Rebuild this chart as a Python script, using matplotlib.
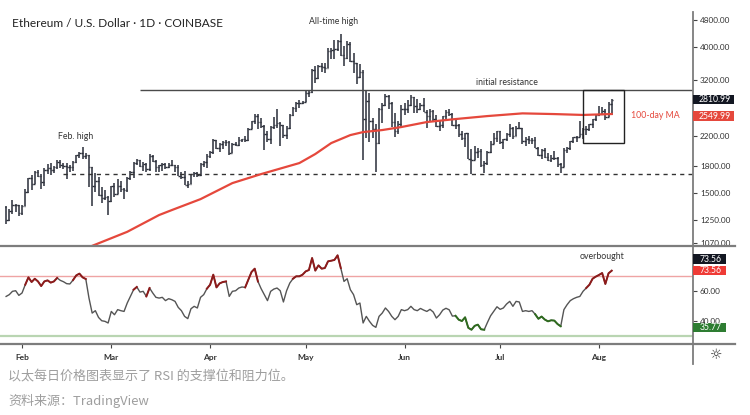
import pandas as pd
import matplotlib
matplotlib.use("Agg")
import matplotlib.pyplot as plt
import matplotlib.dates as mdates
from matplotlib.lines import Line2D
from matplotlib.patches import Rectangle
from matplotlib.ticker import FixedLocator, NullLocator, FuncFormatter

plt.rcParams['font.family'] = ['Lato', 'DejaVu Sans']

# ---- data: ETH/USD daily bars, 2021-01-27 .. 2021-08-05 ----
start_date = "2021-01-27"
first_open = 1362

close = [1250, 1331, 1379, 1378, 1313,
         1373, 1510, 1660, 1592, 1722, 1680, 1613, 1749, 1769, 1744, 1784, 1843, 1814, 1802,
         1780, 1782, 1845, 1938, 1960, 1920, 1935, 1780, 1570, 1625, 1477, 1446, 1460, 1417,
         1566, 1489, 1575, 1540, 1533, 1654, 1724, 1834, 1868, 1795, 1824, 1767, 1924, 1854, 1790, 1805,
         1825, 1780, 1810, 1806, 1783, 1681, 1670, 1585, 1592, 1700, 1715, 1690, 1818, 1844, 1920,
         1970, 2135, 2025, 2080, 2110, 2115, 1965, 2085, 2075, 2135, 2150, 2140, 2300, 2430, 2515,
         2420, 2355, 2235, 2160, 2330, 2365, 2405, 2365, 2210, 2315, 2535, 2660, 2745, 2755, 2770,
         2945, 2950, 3430, 3250, 3520, 3490, 3480, 3900, 3925, 3950, 4170, 3800, 3720, 4080, 3640, 3590,
         3280, 3380, 2460, 2780, 2430, 2300, 2100, 2645, 2710, 2885, 2740, 2420, 2280, 2390, 2630,
         2630, 2705, 2855, 2690, 2630, 2715, 2590, 2515, 2610, 2470, 2355, 2370, 2510, 2585, 2550,
         2365, 2370, 2230, 2165, 2245, 1890, 1875, 1970, 1990, 1810, 1830, 1980, 2085, 2165, 2275,
         2110, 2150, 2225, 2325, 2200, 2325, 2315, 2120, 2150, 2140, 2140, 2035, 1940, 1995, 1915, 1875,
         1895, 1895, 1820, 1785, 1995, 2030, 2125, 2185, 2190, 2230, 2300, 2300, 2380, 2460, 2535,
         2555, 2610, 2505, 2725, 2811]

high = [1373, 1350, 1434, 1395, 1384,
        1380, 1535, 1660, 1695, 1735, 1750, 1700, 1775, 1818, 1830, 1800, 1870, 1874, 1830,
        1830, 1812, 1855, 1940, 1978, 2041, 1957, 1940, 1780, 1710, 1670, 1560, 1528, 1468,
        1570, 1600, 1650, 1620, 1550, 1665, 1735, 1840, 1880, 1876, 1840, 1836, 1946, 1934, 1876, 1812,
        1835, 1836, 1835, 1870, 1810, 1812, 1725, 1740, 1620, 1705, 1730, 1725, 1835, 1860, 1950,
        1990, 2150, 2145, 2100, 2130, 2140, 2130, 2095, 2110, 2185, 2160, 2200, 2320, 2440, 2545,
        2550, 2490, 2365, 2280, 2345, 2500, 2645, 2410, 2370, 2350, 2550, 2680, 2760, 2800, 2790,
        2980, 2990, 3460, 3530, 3540, 3600, 3600, 3970, 3980, 4200, 4200, 4380, 4030, 4170, 4140, 3850,
        3600, 3560, 3440, 2990, 2940, 2490, 2380, 2660, 2750, 2910, 2890, 2760, 2560, 2440, 2710,
        2740, 2800, 2890, 2860, 2815, 2740, 2840, 2620, 2640, 2620, 2530, 2450, 2520, 2620, 2630,
        2560, 2480, 2380, 2280, 2250, 2250, 2020, 2050, 2030, 2010, 1860, 1990, 2130, 2240, 2280,
        2280, 2160, 2240, 2390, 2330, 2350, 2410, 2320, 2190, 2200, 2170, 2180, 2045, 2010, 2030, 1960,
        1930, 1990, 1910, 1835, 2025, 2045, 2130, 2190, 2195, 2440, 2320, 2345, 2390, 2470, 2550,
        2700, 2665, 2630, 2760, 2830]

low = [1218, 1237, 1301, 1320, 1283,
       1290, 1370, 1500, 1530, 1590, 1672, 1541, 1568, 1705, 1686, 1720, 1760, 1775, 1760,
       1652, 1725, 1740, 1832, 1900, 1880, 1880, 1560, 1371, 1510, 1470, 1400, 1430, 1293,
       1410, 1461, 1487, 1510, 1440, 1507, 1640, 1660, 1815, 1781, 1735, 1728, 1738, 1840, 1730, 1730,
       1740, 1760, 1770, 1800, 1730, 1680, 1645, 1580, 1545, 1590, 1665, 1670, 1680, 1790, 1770,
       1900, 1950, 2015, 1980, 2020, 2050, 1935, 1960, 2050, 2060, 2110, 2110, 2130, 2300, 2380,
       2300, 2320, 2000, 2110, 2080, 2310, 2320, 2050, 2170, 2160, 2300, 2520, 2580, 2660, 2720,
       2760, 2850, 2940, 3150, 3230, 3380, 3360, 3470, 3700, 3690, 3890, 3780, 3530, 3700, 3630, 3350,
       3130, 3260, 1870, 2170, 2110, 2170, 1730, 2090, 2400, 2700, 2640, 2330, 2180, 2230, 2320,
       2530, 2570, 2700, 2560, 2570, 2620, 2580, 2320, 2440, 2440, 2330, 2280, 2320, 2470, 2510,
       2350, 2310, 2180, 2140, 2040, 1880, 1700, 1870, 1900, 1790, 1720, 1810, 1960, 2080, 2110,
       2090, 2020, 2120, 2190, 2160, 2200, 2310, 2080, 2050, 2090, 2090, 2030, 1920, 1880, 1900, 1860,
       1850, 1875, 1790, 1720, 1780, 1955, 1995, 2100, 2110, 2180, 2160, 2220, 2270, 2320, 2440,
       2515, 2530, 2450, 2500, 2540]

rsi = [56.4, 57.6, 59.8, 60.2, 57.1,
       58.7, 64.2, 69.1, 66.0, 68.2, 66.4, 63.3, 66.4, 67.1, 65.6, 66.4, 68.7, 67.1, 66.2,
       64.9, 64.7, 67.3, 70.4, 71.6, 69.1, 68.0, 55.3, 45.3, 46.9, 42.4, 40.2, 39.8, 38.7,
       46.4, 44.2, 47.6, 46.9, 46.4, 52.0, 56.4, 60.9, 62.7, 59.3, 59.8, 56.4, 62.0, 58.7, 55.8, 55.3,
       55.8, 53.6, 54.9, 54.2, 53.1, 49.1, 46.9, 43.1, 41.6, 48.2, 49.8, 48.7, 55.8, 57.6, 61.6,
       64.2, 70.9, 62.4, 65.1, 66.0, 66.4, 56.4, 59.8, 60.2, 62.0, 62.7, 62.4, 67.6, 72.7, 74.9,
       66.4, 61.6, 57.6, 53.6, 59.8, 61.3, 62.0, 60.2, 52.7, 60.2, 65.3, 68.2, 69.8, 69.8, 70.9,
       73.1, 74.0, 82.0, 73.6, 77.1, 74.9, 75.3, 79.8, 80.2, 80.7, 83.8, 75.3, 66.4, 68.2, 60.9, 57.6,
       50.9, 52.0, 38.7, 43.1, 39.8, 37.1, 35.8, 43.1, 45.3, 48.7, 46.4, 43.1, 40.9, 43.1, 47.6,
       46.9, 47.6, 49.8, 47.6, 46.9, 48.4, 47.3, 46.4, 47.8, 46.0, 42.0, 44.2, 47.3, 48.5, 47.5,
       43.3, 43.5, 40.9, 40.0, 42.5, 35.5, 34.2, 36.8, 37.6, 34.5, 34.2, 39.0, 43.5, 46.5, 49.5,
       47.8, 48.7, 51.3, 53.1, 49.8, 53.1, 52.7, 46.4, 46.9, 46.4, 46.9, 44.5, 41.5, 43.0, 41.0, 39.8,
       40.5, 40.3, 38.0, 36.5, 47.6, 50.9, 53.6, 54.9, 55.8, 56.4, 59.8, 62.0, 64.2, 68.2, 69.6,
       70.7, 72.0, 64.7, 71.8, 73.56]

# 100-day moving average
ma_dates = ["2021-02-23", "2021-03-06", "2021-03-16", "2021-03-20", "2021-03-29", "2021-04-08",
            "2021-04-17", "2021-04-29", "2021-05-04", "2021-05-09", "2021-05-15", "2021-05-19",
            "2021-05-25", "2021-05-31", "2021-06-08", "2021-06-17", "2021-06-27", "2021-07-08",
            "2021-07-18", "2021-07-27", "2021-08-05"]
ma_values = [1050, 1154, 1292, 1336, 1438, 1602, 1702, 1833, 1948, 2097, 2213, 2258,
             2289, 2336, 2416, 2465, 2515, 2561, 2549, 2534, 2550]

# RSI stretches drawn highlighted
red_spans = [("2021-02-02", "2021-02-12"), ("2021-02-17", "2021-02-21"), ("2021-03-08", "2021-03-09"),
             ("2021-03-12", "2021-03-13"), ("2021-03-31", "2021-04-06"), ("2021-04-12", "2021-04-16"),
             ("2021-04-27", "2021-05-12"), ("2021-07-28", "2021-08-05")]
green_spans = [("2021-06-17", "2021-06-26"), ("2021-07-12", "2021-07-20")]

price_ticks = [1070, 1250, 1500, 1800, 2200, 3200, 4000, 4800]
rsi_ticks = [40, 60]
month_starts = ["2021-02-01", "2021-03-01", "2021-04-01", "2021-05-01", "2021-06-01", "2021-07-01", "2021-08-01"]
month_labels = ["Feb", "Mar", "Apr", "May", "Jun", "Jul", "Aug"]

resistance = 2990
resistance_from = "2021-03-10"
support = 1705
support_from = "2021-02-14"
box_from, box_to = "2021-07-27", "2021-08-08 18:00"
box_low, box_high = 2100, 2990
feb_high = ("2021-02-20", 2041)
ath = ("2021-05-12", 4380)

last_price = 2810.99
last_ma = 2549.99
last_rsi = 73.56
rsi_signal = 35.77

# ---- layout ----
W, H = 750, 415
fig = plt.figure(figsize=(W / 100, H / 100), dpi=100)
fig.patch.set_facecolor('white')


def fx(px):
    return px / W


def fy(py):
    return 1 - py / H


ax = fig.add_axes([0, fy(245), fx(693), fy(8) - fy(245)])
axr = fig.add_axes([0, fy(344), fx(693), fy(246) - fy(344)], sharex=ax)

x0 = mdates.date2num(pd.Timestamp("2021-01-25 02:00"))
x1 = mdates.date2num(pd.Timestamp("2021-08-30 12:00"))

dates = pd.date_range(start_date, periods=len(close))
x = mdates.date2num(dates)
opens = [first_open] + close[:-1]

bar_col = '#2a2e39'
ax.vlines(x, low, high, color=bar_col, lw=1.1)
ax.hlines(opens, x - 0.45, x, color=bar_col, lw=1.0)
ax.hlines(close, x, x + 0.45, color=bar_col, lw=1.0)

ax.plot(mdates.date2num(pd.to_datetime(ma_dates)), ma_values, color='#e5483c', lw=1.6, zorder=3)

ax.hlines(resistance, mdates.date2num(pd.Timestamp(resistance_from)), x1, color='#4a4a4a', lw=1.0)
ax.plot([mdates.date2num(pd.Timestamp(support_from)), x1], [support, support],
        color='#333333', lw=1.0, dashes=(3, 3))

bx0 = mdates.date2num(pd.Timestamp(box_from))
bx1 = mdates.date2num(pd.Timestamp(box_to))
ax.add_patch(Rectangle((bx0, box_low), bx1 - bx0, box_high - box_low, fill=False,
                       ec='#222222', lw=1.0, zorder=4))

ax.set_yscale('log')
ax.set_xlim(x0, x1)
ax.set_ylim(1056, 5205)

note = dict(fontsize=6.3, color='#333333', textcoords='offset points', ha='center', va='center')
ax.annotate("Feb. high", xy=(mdates.date2num(pd.Timestamp(feb_high[0])), feb_high[1]),
            xytext=(-5.3, 7.4), **note)
ax.annotate("All-time high", xy=(mdates.date2num(pd.Timestamp(ath[0])), ath[1]),
            xytext=(-4.9, 8.9), **note)
ax.annotate("initial resistance", xy=(mdates.date2num(pd.Timestamp("2021-07-03")), resistance),
            xytext=(0, 6.0), **note)
ax.annotate("100-day MA", xy=(x[-1], ma_values[-1]), xytext=(31.5, -1.3),
            textcoords='offset points', ha='center', va='center', fontsize=6.3, color='#e5483c')

# price axis on the right
ax.yaxis.tick_right()
ax.yaxis.set_major_locator(FixedLocator(price_ticks))
ax.yaxis.set_minor_locator(NullLocator())
ax.yaxis.set_major_formatter(FuncFormatter(lambda v, p: "%.2f" % v))
ax.tick_params(axis='y', length=3, width=0.8, pad=2, colors='#444444', labelsize=5.9, labelcolor='#333333')
ax.tick_params(axis='x', bottom=False, labelbottom=False)
for s in ax.spines.values():
    s.set_visible(False)

# ---- RSI panel ----
axr.axhline(70, color='#efa4a4', lw=1.0)
axr.axhline(30, color='#b9d5b2', lw=1.6)
axr.plot(x, rsi, color='#555555', lw=1.0)
rsi_s = pd.Series(rsi, index=dates)
for spans, col in ((red_spans, '#8e1b1b'), (green_spans, '#2f6b1f')):
    for a, b in spans:
        seg = rsi_s[a:b]
        axr.plot(mdates.date2num(seg.index), seg.values, color=col, lw=1.4, zorder=3)

axr.set_ylim(24.7, 90)
axr.yaxis.tick_right()
axr.yaxis.set_major_locator(FixedLocator(rsi_ticks))
axr.yaxis.set_major_formatter(FuncFormatter(lambda v, p: "%.2f" % v))
axr.tick_params(axis='y', length=3, width=0.8, pad=2, colors='#444444', labelsize=5.9, labelcolor='#333333')
axr.set_xticks(mdates.date2num(pd.to_datetime(month_starts)))
axr.set_xticklabels(month_labels, fontweight='bold')
axr.tick_params(axis='x', length=3, width=0.8, pad=4, colors='#444444', labelsize=6.0, labelcolor='#333333')
for s in axr.spines.values():
    s.set_visible(False)
axr.set_xlim(x0, x1)

# separators and the price-scale border
sep = '#7d7d7d'
fig.add_artist(Line2D([0, fx(735)], [fy(245.5), fy(245.5)], color=sep, lw=1.6))
fig.add_artist(Line2D([0, fx(735)], [fy(344), fy(344)], color=sep, lw=1.6))
fig.add_artist(Line2D([fx(693), fx(693)], [fy(12), fy(364)], color=sep, lw=1.3))


def value_tag(axis, value, text, face, width, dy=0.0, height=9.5):
    ypix = axis.transData.transform((x0, value))[1] + dy
    fig.add_artist(Rectangle((fx(693), (ypix - height / 2) / H), width / W, height / H,
                             transform=fig.transFigure, fc=face, ec='none', zorder=5))
    fig.text(fx(693 + width / 2 + 1), ypix / H, text, color='white', ha='center', va='center',
             fontsize=6.2, zorder=6)


value_tag(ax, last_price, "%.2f" % last_price, '#131722', 41)
value_tag(ax, last_ma, "%.2f" % last_ma, '#e5483c', 41, dy=-2)
value_tag(axr, last_rsi, "%.2f" % last_rsi, '#131722', 33, dy=11.5)
value_tag(axr, last_rsi, "%.2f" % last_rsi, '#ef3b36', 33)
value_tag(axr, rsi_signal, "%.2f" % rsi_signal, '#2e7d32', 33)

axr.annotate("overbought", xy=(x[-1], rsi[-1]), xytext=(-6.8, 10.4), textcoords='offset points',
             ha='center', va='center', fontsize=6.3, color='#333333')

# title, gear and caption
fig.text(fx(12), fy(23.5), "Ethereum / U.S. Dollar · 1D · COINBASE", fontsize=8.6, color='#222222',
         ha='left', va='center')
fig.text(fx(716), fy(355), "\u263c", fontsize=10, color='#333333', ha='center', va='center',
         family=['DejaVu Sans'])
cjk = ['Noto Sans CJK SC', 'DejaVu Sans']
fig.text(fx(8), fy(377), "以太每日价格图表显示了 RSI 的支撑位和阻力位。", fontsize=9.4,
         color='#9e9e9e', ha='left', va='center', family=cjk)
fig.text(fx(8), fy(401), "资料来源：TradingView", fontsize=9.4, color='#9e9e9e',
         ha='left', va='center', family=cjk)

fig.savefig("out.png", dpi=100)
